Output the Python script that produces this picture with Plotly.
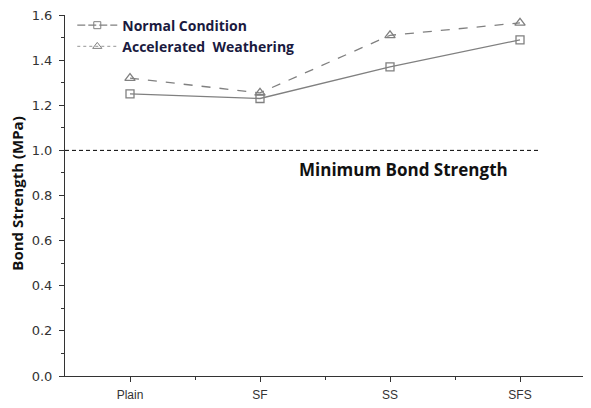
import plotly.graph_objects as go

categories = ["Plain", "SF", "SS", "SFS"]
x_pos = [1, 2, 3, 4]
normal = [1.25, 1.23, 1.37, 1.49]
accelerated = [1.32, 1.255, 1.51, 1.565]
min_strength = 1.0

gray = "#808080"
fig = go.Figure()
fig.add_trace(go.Scatter(x=x_pos, y=normal, mode="lines+markers", showlegend=False,
                         line=dict(color=gray, width=1.3),
                         marker=dict(symbol="square-open", size=8, color=gray, line=dict(width=1.3))))
fig.add_trace(go.Scatter(x=x_pos, y=accelerated, mode="lines+markers", showlegend=False,
                         line=dict(color=gray, width=1.3, dash="dash"),
                         marker=dict(symbol="triangle-up-open", size=9, color=gray, line=dict(width=1.3))))
fig.add_trace(go.Scatter(x=[None], y=[None], mode="lines+markers", name="<b>Normal Condition</b>",
                         line=dict(color=gray, width=1.2, dash="8px,3px"),
                         marker=dict(symbol="square-open", size=7, color=gray)))
fig.add_trace(go.Scatter(x=[None], y=[None], mode="lines+markers", name="<b>Accelerated  Weathering</b>",
                         line=dict(color="#aaaaaa", width=1.2, dash="dot"),
                         marker=dict(symbol="triangle-up-open", size=8, color=gray)))

fig.add_shape(type="line", xref="x", yref="y", x0=0.5, x1=4.14, y0=min_strength, y1=min_strength,
              line=dict(color="black", width=1, dash="4px,3px"))
fig.add_annotation(x=3.1, y=0.915, xref="x", yref="y", text="<b>Minimum Bond Strength</b>",
                   showarrow=False, font=dict(family="Open Sans", size=17, color="#111"))
fig.add_annotation(x=0, y=0.505, xref="paper", yref="paper", text="<b>Bond Strength (MPa)</b>",
                   textangle=-90, showarrow=False, xanchor="center", yanchor="middle",
                   xshift=-48,
                   font=dict(family="Open Sans", size=15, color="#111"))

fig.update_layout(
    width=583, height=400, margin=dict(l=57, r=6, t=7, b=32, autoexpand=False),
    plot_bgcolor="white", paper_bgcolor="white",
    font=dict(family="Liberation Sans, Arial", size=12, color="#333"),
    legend=dict(x=0.014, y=1.015, xanchor="left", yanchor="top", bgcolor="rgba(0,0,0,0)",
                font=dict(family="Open Sans", size=14, color="#1a1a40"), tracegroupgap=0,
                itemwidth=40),
    xaxis=dict(range=[0.5, 4.5], tickmode="array", tickvals=x_pos, ticktext=categories,
               showgrid=False, zeroline=False, showline=True, linecolor="#333", linewidth=1,
               ticks="outside", ticklen=5, tickcolor="#333", automargin=False,
               ticklabelstandoff=3, ticklabeloverflow="allow",
               minor=dict(tickvals=[1.5, 2.5, 3.5], ticks="outside", ticklen=3, tickcolor="#333"),
               tickfont=dict(size=12, color="#333")),
    yaxis=dict(range=[0, 1.6], tickmode="array", tickvals=[0, 0.2, 0.4, 0.6, 0.8, 1.0, 1.2, 1.4, 1.6],
               tickformat=".1f", automargin=False, ticklabeloverflow="allow",
               showgrid=False, zeroline=False, showline=True, linecolor="#333", linewidth=1,
               ticks="outside", ticklen=5, tickcolor="#333", ticklabelstandoff=4,
               minor=dict(tickvals=[0.1, 0.3, 0.5, 0.7, 0.9, 1.1, 1.3, 1.5], ticks="outside",
                          ticklen=3, tickcolor="#333"),
               tickfont=dict(family="DejaVu Sans", size=13, color="#333")),
)
fig.write_html("out.html")
